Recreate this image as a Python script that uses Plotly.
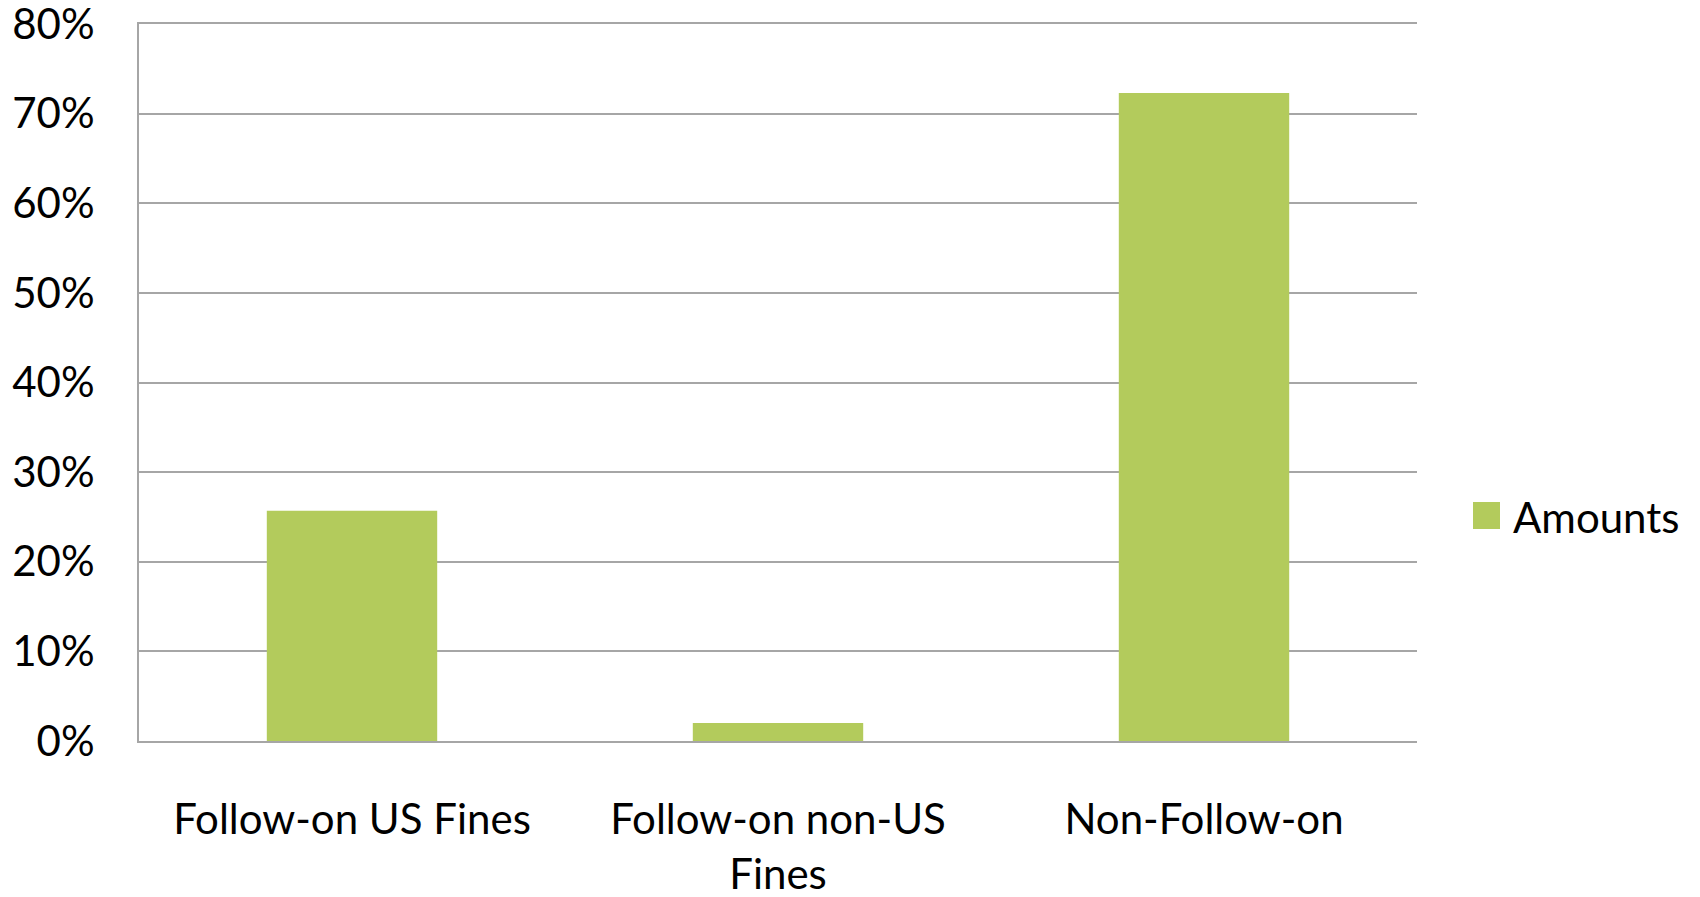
import plotly.graph_objects as go

categories = ["Follow-on US Fines", "Follow-on non-US<br>Fines", "Non-Follow-on"]
amounts = [0.257, 0.020, 0.723]
series_name = "Amounts"
tick_vals = [0, 0.1, 0.2, 0.3, 0.4, 0.5, 0.6, 0.7, 0.8]
tick_text = ["0%", "10%", "20%", "30%", "40%", "50%", "60%", "70%", "80%"]

BAR = "#B3CB5C"
GRID = "#A6A6A6"
FONT = "Lato"
FS = 42

W, H = 1700, 897
L, T, R, B = 139, 24, 1700 - 1417, 897 - 741
PW, PH = W - L - R, H - T - B

fig = go.Figure()
fig.add_trace(go.Bar(x=categories, y=amounts, name=series_name,
                     marker=dict(color=BAR, line=dict(width=0)),
                     width=0.4, showlegend=False))

fig.update_layout(
    width=W, height=H,
    margin=dict(l=L, r=R, t=T, b=B),
    paper_bgcolor="white", plot_bgcolor="white",
    font=dict(family=FONT, size=FS, color="black"),
    xaxis=dict(showgrid=False, showline=True, mirror=True,
               linecolor=GRID, linewidth=2,
               ticks="", ticklabelstandoff=41, tickfont=dict(size=FS),
               automargin=False),
    yaxis=dict(range=[0, 0.8], tickvals=tick_vals, ticktext=tick_text,
               showgrid=True, gridcolor=GRID, gridwidth=2,
               showline=True, linecolor=GRID, linewidth=2,
               zeroline=False, ticks="", ticklabelstandoff=34,
               ticklabeloverflow="allow",
               tickfont=dict(size=FS), automargin=False),
)

# legend drawn manually (swatch + label)
fig.add_shape(type="rect", xref="paper", yref="paper",
              x0=(1473 - 139) / PW, x1=(1500 - 139) / PW,
              y0=(741 - 529) / PH, y1=(741 - 502) / PH,
              fillcolor=BAR, line=dict(width=0))
fig.add_annotation(xref="paper", yref="paper",
                   x=(1511 - 139) / PW, y=(741 - 517) / PH,
                   xanchor="left", yanchor="middle", showarrow=False,
                   text=series_name, font=dict(family=FONT, size=FS, color="black"))

fig.write_html("out.html",
               config={"displayModeBar": False},
               post_script="document.body.style.margin='0px';document.body.style.overflow='hidden';")
